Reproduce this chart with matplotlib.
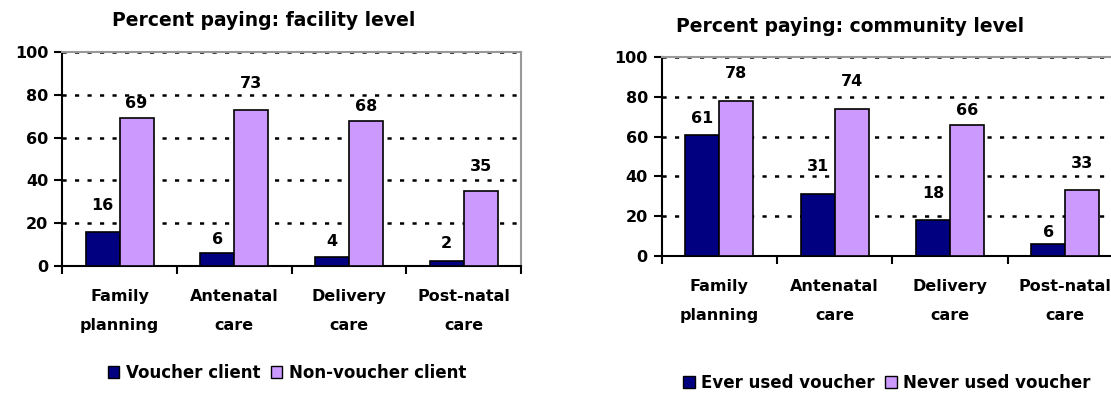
import numpy as np
import matplotlib
matplotlib.use("Agg")
import matplotlib.pyplot as plt
from matplotlib.patches import Patch

categories = ["Family\nplanning", "Antenatal\ncare", "Delivery\ncare", "Post-natal\ncare"]

facility_voucher = [16, 6, 4, 2]
facility_nonvoucher = [69, 73, 68, 35]
community_ever = [61, 31, 18, 6]
community_never = [78, 74, 66, 33]

# label offsets above bar top (points), as placed in the original
facility_off_dark = [19, 10, 11, 13]
facility_off_light = [11, 19, 10, 18]
community_off_dark = [12, 20, 19, 8]
community_off_light = [20, 20, 10, 19]

DARK = "#000080"
LIGHT = "#CC99FF"
W, H = 1111, 393

plt.rcParams['font.family'] = 'DejaVu Sans'
plt.rcParams['font.weight'] = 'bold'
plt.rcParams['lines.scale_dashes'] = False

fig = plt.figure(figsize=(W / 100, H / 100), dpi=100)


def panel(rect, a, b, off_a, off_b, title, title_xy, labels, legend_xy):
    ax = fig.add_axes(rect)
    x = np.arange(len(categories))
    bw = 0.296
    ax.bar(x - bw / 2, a, bw, color=DARK, edgecolor="black", linewidth=1.2, zorder=3)
    ax.bar(x + bw / 2, b, bw, color=LIGHT, edgecolor="black", linewidth=1.2, zorder=3)
    for xi, v, o in zip(x, a, off_a):
        ax.annotate(str(v), (xi - bw / 2, v), xytext=(0, o), textcoords="offset points",
                    ha="center", va="center", fontsize=11.5, fontweight="bold")
    for xi, v, o in zip(x, b, off_b):
        ax.annotate(str(v), (xi + bw / 2, v), xytext=(0, o), textcoords="offset points",
                    ha="center", va="center", fontsize=11.5, fontweight="bold")
    ax.set_xlim(-0.5, len(categories) - 0.5)
    ax.set_ylim(0, 100)
    ax.set_yticks(np.arange(0, 101, 20))
    ax.tick_params(axis="y", length=6, width=1.5, labelsize=11.5, pad=4)
    ax.set_xticks(np.arange(-0.5, len(categories)), labels=[""] * (len(categories) + 1))
    ax.tick_params(axis="x", which="major", length=6, width=1.5)
    ax.set_xticks(x, labels=categories, minor=True)
    ax.tick_params(axis="x", which="minor", length=0, pad=17, labelsize=11.5)
    for t in ax.get_xticklabels(minor=True):
        t.set_linespacing(2.1)
    for y in range(20, 101, 20):
        ax.axhline(y, color="black", lw=1.8, dashes=(3, 6), zorder=2)
    ax.spines["left"].set_linewidth(1.5)
    ax.spines["bottom"].set_linewidth(1.5)
    ax.spines["top"].set_color("#999999")
    ax.spines["right"].set_color("#999999")
    ax.spines["top"].set_linewidth(1.5)
    ax.spines["right"].set_linewidth(1.5)
    fig.text(title_xy[0] / W, 1 - title_xy[1] / H, title, ha="center", va="center",
             fontsize=13.5, fontweight="bold")
    handles = [Patch(facecolor=DARK, edgecolor="black", lw=1),
               Patch(facecolor=LIGHT, edgecolor="black", lw=1)]
    fig.legend(handles, labels, loc="center",
               bbox_to_anchor=(legend_xy[0] / W, 1 - legend_xy[1] / H),
               ncol=2, frameon=False, fontsize=12, handlelength=0.7,
               handleheight=0.7, handletextpad=0.4, columnspacing=0.6)
    return ax


panel([62.3 / W, 1 - 265.7 / H, 458.7 / W, 213.4 / H],
      facility_voucher, facility_nonvoucher, facility_off_dark, facility_off_light,
      "Percent paying: facility level", (264, 21),
      ["Voucher client", "Non-voucher client"], (287, 373))

panel([661.7 / W, 1 - 255.7 / H, 461.3 / W, 198.4 / H],
      community_ever, community_never, community_off_dark, community_off_light,
      "Percent paying: community level", (850, 26),
      ["Ever used voucher", "Never used voucher"], (887, 383))

fig.savefig("out.png", dpi=100)
